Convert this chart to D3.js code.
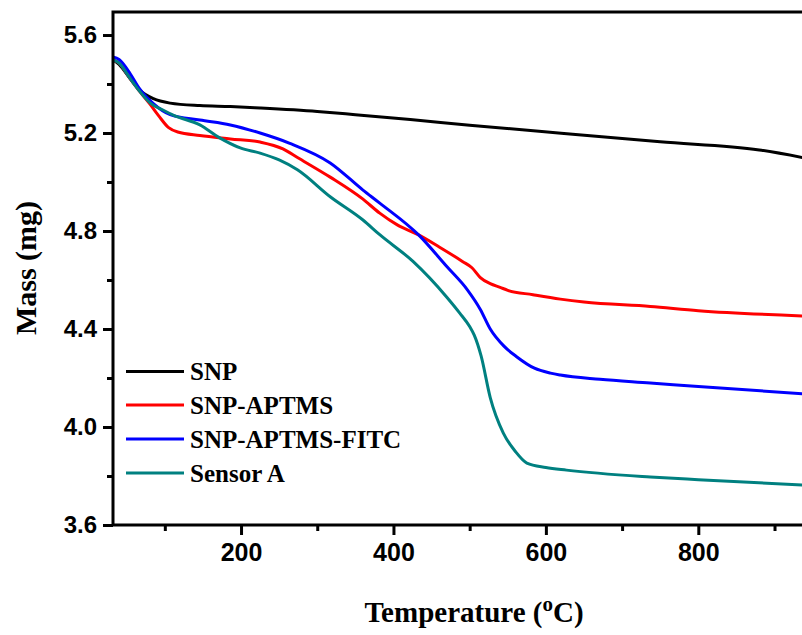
<!DOCTYPE html>
<html>
<head>
<meta charset="utf-8">
<script src="https://cdn.jsdelivr.net/npm/d3@7"></script>
<style>
  html, body { margin: 0; padding: 0; background: #fff; }
  svg { display: block; }
</style>
</head>
<body>
<svg id="chart" width="802" height="635"></svg>
<script>
// ---- data (temperature °C, mass mg) ----
const seriesNames = ["SNP", "SNP-APTMS", "SNP-APTMS-FITC", "Sensor A"];
const seriesColors = ["#000000", "#ff0000", "#0000ff", "#008080"];

const snp = [[32,5.50],[40,5.48],[55,5.42],[67,5.375],[85,5.34],[107,5.322],[146,5.312],[186,5.308],[225,5.302],[300,5.288],[350,5.275],[422,5.255],[500,5.232],[620,5.199],[750,5.164],[880,5.131],[940,5.098]];
const snpAptms = [[32,5.50],[40,5.485],[55,5.42],[67,5.37],[80,5.32],[92,5.27],[105,5.222],[117,5.204],[146,5.19],[186,5.176],[225,5.163],[255,5.135],[274,5.10],[317,5.02],[360,4.93],[382,4.873],[405,4.825],[433,4.784],[460,4.735],[491,4.675],[503,4.65],[514,4.61],[527,4.585],[540,4.57],[550,4.558],[583,4.54],[619,4.522],[650,4.51],[737,4.492],[800,4.475],[940,4.453]];
const snpAptmsFitc = [[32,5.51],[40,5.50],[55,5.44],[67,5.38],[85,5.32],[107,5.275],[146,5.253],[186,5.233],[225,5.20],[264,5.158],[317,5.078],[360,4.967],[382,4.914],[433,4.784],[470,4.655],[497,4.56],[514,4.48],[527,4.40],[545,4.33],[562,4.286],[585,4.24],[606,4.22],[619,4.212],[671,4.195],[737,4.18],[800,4.165],[940,4.135]];
const sensorA = [[32,5.50],[40,5.485],[55,5.42],[67,5.37],[81,5.322],[100,5.29],[111,5.273],[146,5.233],[172,5.18],[199,5.139],[225,5.118],[250,5.09],[274,5.05],[317,4.94],[360,4.845],[382,4.785],[426,4.675],[470,4.53],[487,4.465],[500,4.41],[506,4.375],[515,4.29],[527,4.12],[544,3.976],[560,3.9],[575,3.853],[600,3.835],[627,3.824],[737,3.796],[800,3.785],[940,3.763]];
const allSeries = [snp, snpAptms, snpAptmsFitc, sensorA];

const yMajorTicks = [3.6, 4.0, 4.4, 4.8, 5.2, 5.6];
const yMinorTicks = [3.8, 4.2, 4.6, 5.0, 5.4];
const xMajorTicks = [200, 400, 600, 800];
const xMinorTicks = [100, 300, 500, 700, 900];

// ---- layout ----
const svg = d3.select("#chart");
const pLeft = 113, pTop = 12, pBottom = 525, pRight = 805;
const x = d3.scaleLinear().domain([32, 940]).range([pLeft, pRight]);
const y = d3.scaleLinear().domain([3.6, 5.694]).range([pBottom, pTop]);

svg.append("defs").append("clipPath").attr("id", "clip")
  .append("rect").attr("x", pLeft).attr("y", pTop).attr("width", pRight - pLeft).attr("height", pBottom - pTop);

// lines
const line = d3.line().x(d => x(d[0])).y(d => y(d[1])).curve(d3.curveMonotoneX);
const g = svg.append("g").attr("clip-path", "url(#clip)");
allSeries.forEach((s, i) => {
  g.append("path").datum(s)
    .attr("d", line)
    .attr("fill", "none")
    .attr("stroke", seriesColors[i])
    .attr("stroke-width", 3)
    .attr("stroke-linejoin", "round");
});

// frame
svg.append("path")
  .attr("d", `M${pRight},${pTop}H${pLeft}V${pBottom}H${pRight}`)
  .attr("fill", "none").attr("stroke", "#000").attr("stroke-width", 3);

// y axis ticks
const yAxis = svg.append("g").attr("transform", `translate(${pLeft},0)`);
yAxis.call(d3.axisLeft(y).tickValues(yMajorTicks).tickSize(10).tickPadding(6).tickFormat(d3.format(".1f")));
yAxis.append("g").call(d3.axisLeft(y).tickValues(yMinorTicks).tickSize(6).tickFormat(""));
yAxis.selectAll(".domain").remove();
yAxis.selectAll("line").attr("stroke", "#000").attr("stroke-width", 3);
yAxis.selectAll("text")
  .attr("font-family", "Liberation Sans, Arial, sans-serif")
  .attr("font-weight", "bold").attr("font-size", 24).attr("fill", "#000");

// x axis ticks
const xAxis = svg.append("g").attr("transform", `translate(0,${pBottom})`);
xAxis.call(d3.axisBottom(x).tickValues(xMajorTicks).tickSize(10).tickPadding(8).tickFormat(d3.format("d")));
xAxis.append("g").call(d3.axisBottom(x).tickValues(xMinorTicks).tickSize(6).tickFormat(""));
xAxis.selectAll(".domain").remove();
xAxis.selectAll("line").attr("stroke", "#000").attr("stroke-width", 3);
xAxis.selectAll("text")
  .attr("font-family", "Liberation Sans, Arial, sans-serif")
  .attr("font-weight", "bold").attr("font-size", 25).attr("fill", "#000");

// axis titles
svg.append("text")
  .attr("transform", "translate(36,268) rotate(-90)")
  .attr("text-anchor", "middle")
  .attr("font-family", "Liberation Serif, Times New Roman, serif")
  .attr("font-weight", "bold").attr("font-size", 30)
  .text("Mass (mg)");

const xt = svg.append("text")
  .attr("x", 474).attr("y", 622)
  .attr("text-anchor", "middle")
  .attr("font-family", "Liberation Serif, Times New Roman, serif")
  .attr("font-weight", "bold").attr("font-size", 29);
xt.append("tspan").text("Temperature (");
xt.append("tspan").attr("dy", -11).attr("font-size", 21).text("o");
xt.append("tspan").attr("dy", 11).text("C)");

// legend
const legendY = [371.5, 405, 439, 473];
seriesNames.forEach((name, i) => {
  svg.append("line")
    .attr("x1", 126).attr("x2", 184)
    .attr("y1", legendY[i]).attr("y2", legendY[i])
    .attr("stroke", seriesColors[i]).attr("stroke-width", 3);
  svg.append("text")
    .attr("x", 190).attr("y", legendY[i] + 8.5)
    .attr("font-family", "Liberation Serif, Times New Roman, serif")
    .attr("font-weight", "bold").attr("font-size", 25)
    .text(name);
});
</script>
</body>
</html>
